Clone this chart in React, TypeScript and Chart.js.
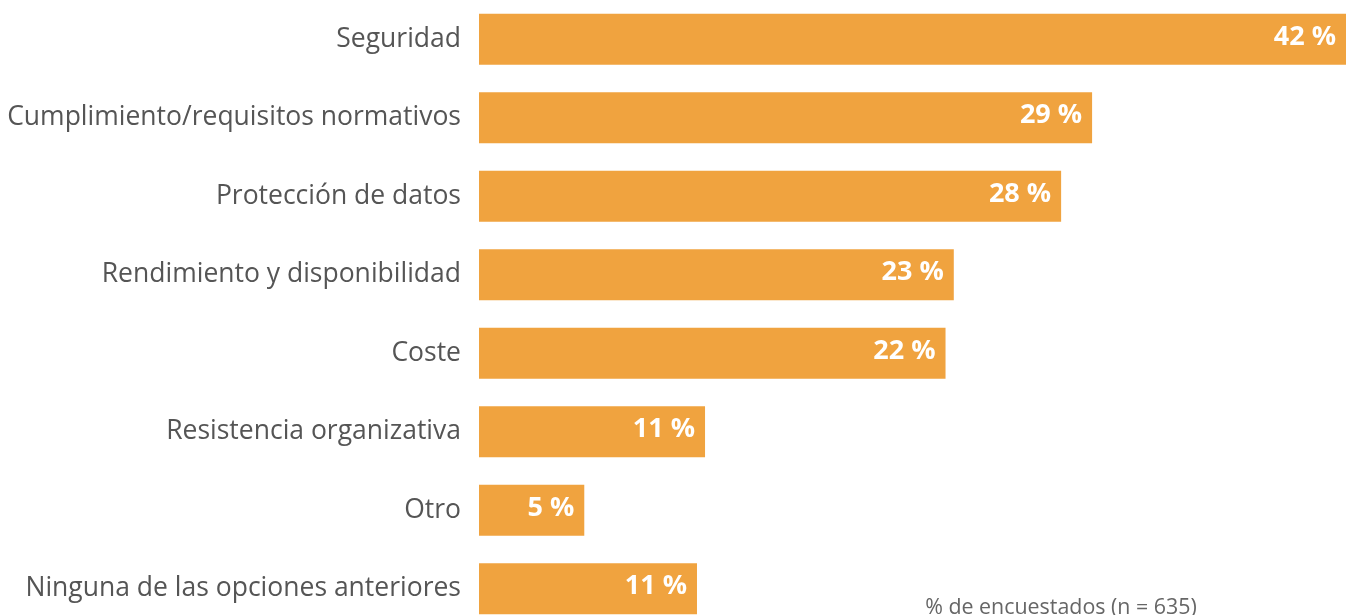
import React, { useEffect, useRef } from "react";
import { Chart, registerables } from "chart.js";

Chart.register(...registerables);

const categories = [
  "Seguridad",
  "Cumplimiento/requisitos normativos",
  "Protección de datos",
  "Rendimiento y disponibilidad",
  "Coste",
  "Resistencia organizativa",
  "Otro",
  "Ninguna de las opciones anteriores",
];
const values = [42, 29.7, 28.2, 23.0, 22.6, 10.95, 5.1, 10.56];
const valueLabels = ["42 %", "29 %", "28 %", "23 %", "22 %", "11 %", "5 %", "11 %"];
const footnote = "% de encuestados (n = 635)";

const FONT = "'Open Sans', Lato, sans-serif";

export default function App() {
  const ref = useRef<HTMLCanvasElement | null>(null);

  useEffect(() => {
    document.body.style.margin = "0";
    const canvas = ref.current;
    if (!canvas) return;

    const labelPlugin = {
      id: "valueLabels",
      afterDatasetsDraw(chart: any) {
        const ctx = chart.ctx;
        const meta = chart.getDatasetMeta(0);
        ctx.save();
        ctx.fillStyle = "#ffffff";
        ctx.font = `bold 27px ${FONT}`;
        ctx.textAlign = "right";
        ctx.textBaseline = "middle";
        meta.data.forEach((bar: any, i: number) => {
          ctx.fillText(valueLabels[i], bar.x - 10, bar.y - 2);
        });
        ctx.fillStyle = "#666666";
        ctx.font = `21.4px ${FONT}`;
        ctx.textAlign = "center";
        ctx.textBaseline = "alphabetic";
        ctx.fillText(footnote, 1061, 614);
        ctx.restore();
      },
    };

    const chart = new Chart(canvas, {
      type: "bar",
      data: {
        labels: categories,
        datasets: [
          {
            data: values,
            backgroundColor: "#F0A33F",
            borderWidth: 0,
            barPercentage: 0.65,
            categoryPercentage: 1,
          },
        ],
      },
      options: {
        indexAxis: "y",
        animation: false,
        responsive: false,
        maintainAspectRatio: false,
        layout: { padding: 0 },
        plugins: {
          legend: { display: false },
          tooltip: { enabled: false },
        },
        scales: {
          x: {
            display: false,
            min: 0,
            max: 42,
          },
          y: {
            grid: { display: false, drawTicks: false },
            border: { display: false },
            ticks: {
              color: "#555555",
              font: { family: FONT, size: 26.5 },
              padding: 18,
            },
            afterFit(scale: any) {
              scale.width = 479;
              scale.paddingTop = 0;
              scale.paddingBottom = 0;
            },
          },
        },
      },
      plugins: [labelPlugin],
    });

    return () => chart.destroy();
  }, []);

  return (
    <div style={{ width: 1346, height: 615, overflow: "hidden", position: "relative" }}>
      <canvas ref={ref} width={1346} height={628} style={{ display: "block" }} />
    </div>
  );
}
